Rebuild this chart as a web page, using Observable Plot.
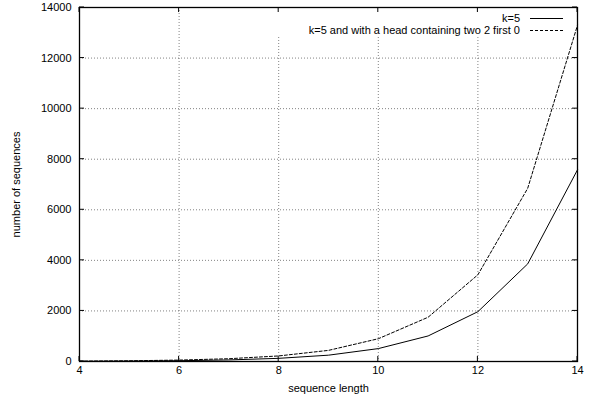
<!DOCTYPE html>
<html><head><meta charset="utf-8">
<script src="https://cdn.jsdelivr.net/npm/d3@7"></script>
<script src="https://cdn.jsdelivr.net/npm/@observablehq/plot@0.6"></script>
<style>body{margin:0;background:#fff}</style>
</head><body><div id="chart"></div>
<script>
const lengths = [4, 5, 6, 7, 8, 9, 10, 11, 12, 13, 14];
const k5 = [8, 16, 31, 62, 125, 250, 510, 1010, 1970, 3860, 7580];
const k5Head = [14, 28, 56, 110, 220, 440, 900, 1750, 3430, 6850, 13300];
const seriesNames = ["k=5", "k=5 and with a head containing two 2 first 0"];
const xTicks = [4, 6, 8, 10, 12, 14];
const yTicks = [0, 2000, 4000, 6000, 8000, 10000, 12000, 14000];
const xGrid = [6, 8, 10, 12];
const yGrid = [2000, 4000, 6000, 8000, 10000, 12000];

const rowsK5 = lengths.map((len, i) => ({len, value: k5[i], series: seriesNames[0]}));
const rowsHead = lengths.map((len, i) => ({len, value: k5Head[i], series: seriesNames[1]}));

const NS = "http://www.w3.org/2000/svg";
function el(tag, attrs) {
  const e = document.createElementNS(NS, tag);
  for (const k in attrs) e.setAttribute(k, attrs[k]);
  return e;
}

// white area behind the key (interrupts the grid like gnuplot)
function keyMask(index, scales, values, dims) {
  const r = dims.width - dims.marginRight;
  return el("rect", {x: r - 307, y: dims.marginTop + 1, width: 298, height: 28, fill: "white"});
}

// inward ticks on all four sides, positioned by the plot's scales
function inwardTicks(index, scales, values, dims) {
  const g = el("g", {stroke: "black", "stroke-width": 1});
  const L = dims.marginLeft, R = dims.width - dims.marginRight;
  const T = dims.marginTop, B = dims.height - dims.marginBottom;
  const len = 5;
  xTicks.forEach(v => {
    const x = scales.x(v);
    g.appendChild(el("line", {x1: x, x2: x, y1: B, y2: B - len}));
    g.appendChild(el("line", {x1: x, x2: x, y1: T, y2: T + len}));
  });
  yTicks.forEach(v => {
    const y = scales.y(v);
    g.appendChild(el("line", {x1: L, x2: L + len, y1: y, y2: y}));
    g.appendChild(el("line", {x1: R, x2: R - len, y1: y, y2: y}));
  });
  return g;
}

function keyLegend(index, scales, values, dims) {
  const g = el("g", {"font-family": "'Liberation Sans', Arial, Helvetica, sans-serif", "font-size": 11});
  const r = dims.width - dims.marginRight;
  const dashes = [null, "3,2"];
  seriesNames.forEach((name, i) => {
    const y = dims.marginTop + 11.5 + i * 12;
    const t = el("text", {x: r - 57, y: y, "text-anchor": "end", dy: "0.35em", fill: "black"});
    t.textContent = name;
    g.appendChild(t);
    const l = el("line", {x1: r - 47, x2: r - 14, y1: y, y2: y, stroke: "black", "stroke-width": 1});
    if (dashes[i]) l.setAttribute("stroke-dasharray", dashes[i]);
    g.appendChild(l);
  });
  return g;
}

const chart = Plot.plot({
  width: 606,
  height: 398,
  marginLeft: 79,
  marginRight: 29,
  marginTop: 7,
  marginBottom: 37,
  style: {fontFamily: "'Liberation Sans', Arial, Helvetica, sans-serif", fontSize: "11px", color: "black", background: "white"},
  x: {domain: [4, 14]},
  y: {domain: [0, 14000]},
  marks: [
    Plot.gridX(xGrid, {stroke: "#000", strokeOpacity: 0.7, strokeDasharray: "1,2", strokeWidth: 0.7}),
    Plot.gridY(yGrid, {stroke: "#000", strokeOpacity: 0.7, strokeDasharray: "1,2", strokeWidth: 0.7}),
    keyMask,
    Plot.axisX(xTicks, {anchor: "bottom", tickSize: 0, tickPadding: 5, tickFormat: d => String(d), label: "sequence length", labelAnchor: "center", labelArrow: "none", labelOffset: 30, fontSize: 11}),
    Plot.axisY(yTicks, {anchor: "left", tickSize: 0, tickPadding: 8, tickFormat: d => String(d), label: "number of sequences", labelAnchor: "center", labelArrow: "none", labelOffset: 67, fontSize: 11}),
    inwardTicks,
    Plot.line(rowsK5, {x: "len", y: "value", stroke: "black", strokeWidth: 1}),
    Plot.line(rowsHead, {x: "len", y: "value", stroke: "black", strokeWidth: 1, strokeDasharray: "3,2"}),
    Plot.frame({stroke: "black", strokeWidth: 1.3}),
    keyLegend
  ]
});
document.getElementById("chart").appendChild(chart);
</script>
</body></html>
